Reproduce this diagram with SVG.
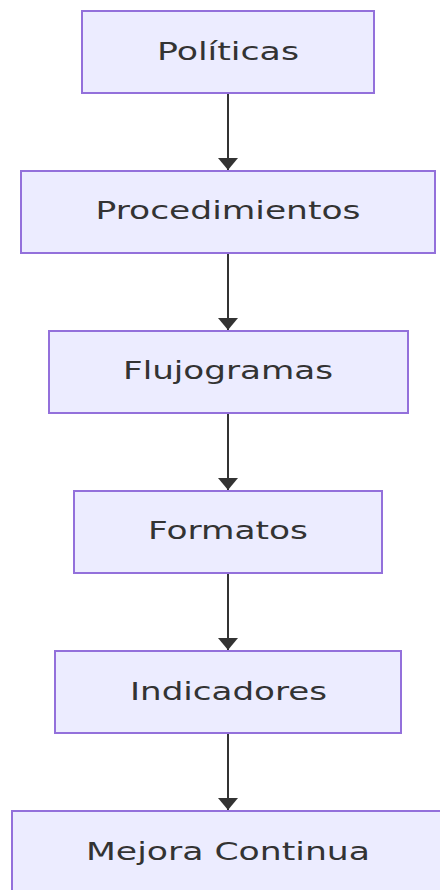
<svg xmlns="http://www.w3.org/2000/svg" width="440" height="890" viewBox="0 0 440 890">
<style>
.node rect{fill:#ECECFF;stroke:#9370DB;stroke-width:2}
.node text{font-family:"DejaVu Sans","Liberation Sans",sans-serif;font-size:24px;fill:#333333;text-anchor:middle}
.edge{stroke:#333333;stroke-width:2;fill:none}
</style>
<defs>
<marker id="arrow" markerUnits="userSpaceOnUse" markerWidth="12" markerHeight="20" refX="12" refY="10" orient="auto" viewBox="0 0 12 20">
<path d="M0,0 L12,10 L0,20 Z" fill="#333333"/>
</marker>
</defs>
<g id="connectors">
<line class="edge" x1="228" y1="94" x2="228" y2="170" marker-end="url(#arrow)"/>
<line class="edge" x1="228" y1="254" x2="228" y2="330" marker-end="url(#arrow)"/>
<line class="edge" x1="228" y1="414" x2="228" y2="490" marker-end="url(#arrow)"/>
<line class="edge" x1="228" y1="574" x2="228" y2="650" marker-end="url(#arrow)"/>
<line class="edge" x1="228" y1="734" x2="228" y2="810" marker-end="url(#arrow)"/>
</g>
<g id="politicas" class="node">
<rect x="82" y="11" width="292" height="82"/>
<text x="228" y="60" textLength="142" lengthAdjust="spacingAndGlyphs">Políticas</text>
</g>
<g id="procedimientos" class="node">
<rect x="21" y="171" width="414" height="82"/>
<text x="228" y="219" textLength="265" lengthAdjust="spacingAndGlyphs">Procedimientos</text>
</g>
<g id="flujogramas" class="node">
<rect x="49" y="331" width="359" height="82"/>
<text x="228" y="379" textLength="210" lengthAdjust="spacingAndGlyphs">Flujogramas</text>
</g>
<g id="formatos" class="node">
<rect x="74" y="491" width="308" height="82"/>
<text x="228" y="539" textLength="160" lengthAdjust="spacingAndGlyphs">Formatos</text>
</g>
<g id="indicadores" class="node">
<rect x="55" y="651" width="346" height="82"/>
<text x="228.5" y="700" textLength="197" lengthAdjust="spacingAndGlyphs">Indicadores</text>
</g>
<g id="mejora" class="node">
<rect x="12" y="811" width="432" height="82"/>
<text x="228" y="860" textLength="284" lengthAdjust="spacingAndGlyphs">Mejora Continua</text>
</g>
</svg>
